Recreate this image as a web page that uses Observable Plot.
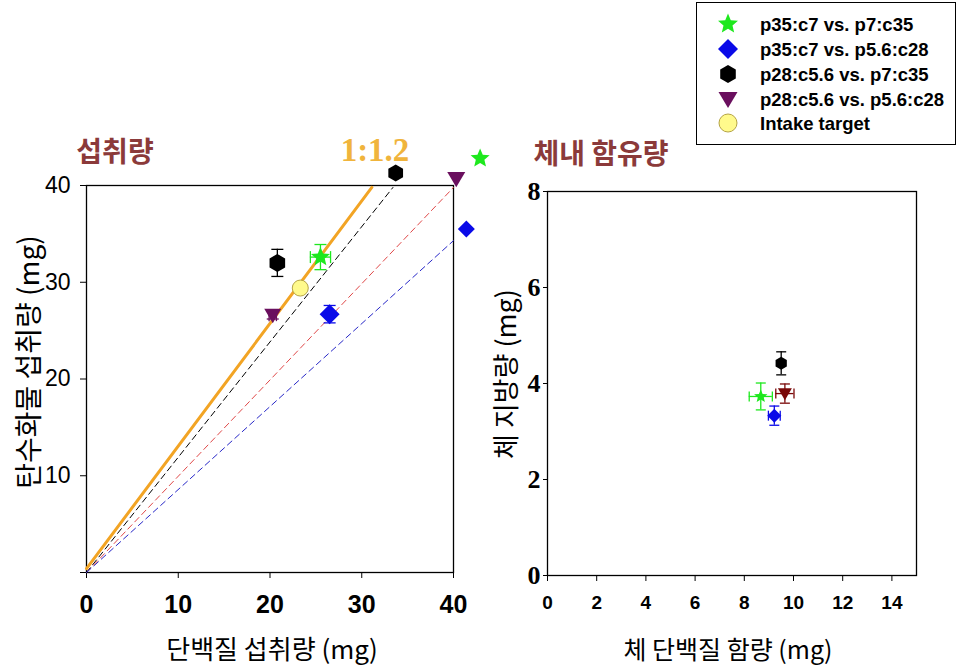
<!DOCTYPE html>
<html><head><meta charset="utf-8">
<script src="https://cdn.jsdelivr.net/npm/d3@7"></script>
<script src="https://cdn.jsdelivr.net/npm/@observablehq/plot@0.6"></script>
<style>
body{margin:0;background:#fff;}
#fig{position:relative;width:972px;height:666px;overflow:hidden;font-family:Arial,"Liberation Sans",sans-serif;background:#fff;}
.abs{position:absolute;white-space:nowrap;line-height:1;}
.kr{font-family:"Noto Sans CJK KR","Noto Sans",sans-serif;}
#left, #right{position:absolute;top:0;}
#left g[aria-label="x-axis tick label"]{font:bold 25px Arial,"Liberation Sans",sans-serif;}
#left g[aria-label="y-axis tick label"]{font:23px Arial,"Liberation Sans",sans-serif;}
#right g[aria-label="x-axis tick label"]{font:bold 19px Arial,"Liberation Sans",sans-serif;}
#right g[aria-label="y-axis tick label"]{font:bold 26px "Liberation Serif","DejaVu Serif",serif;}
</style></head><body><div id="fig"></div>
<script>
// ---------- data ----------
const series = ["p35:c7 vs. p7:c35", "p35:c7 vs. p5.6:c28", "p28:c5.6 vs. p7:c35", "p28:c5.6 vs. p5.6:c28"];
const targetLabel = "Intake target";
// intake (left panel)
const intakeProtein   = [25.5, 26.5, 20.8, 20.3];
const intakeCarb      = [32.6, 26.7, 32.0, 26.6];
const intakeProteinSE = [1.1, 0.0, 0.0, 0.4];
const intakeCarbSE    = [1.3, 0.9, 1.4, 0.4];
const targetProtein = [23.3];
const targetCarb    = [29.4];
// diet markers (outside frame)
const dietProtein = [42.9, 41.4, 33.7, 40.3];
const dietCarb    = [42.8, 35.5, 41.3, 40.7];
// nutritional rails (from origin)
const railProtein = [33.4, 40.0, 40.0];
const railCarb    = [39.8, 39.8, 34.3];
// 1:1.2 line
const ratioLabel = "1:1.2";
const ratioProtein = [0, 31.1];
const ratioCarb    = [0.4, 39.8];
// body composition (right panel)
const bodyProtein   = [8.67, 9.22, 9.50, 9.65];
const bodyFat       = [3.73, 3.33, 4.42, 3.79];
const bodyProteinSE = [0.47, 0.24, 0.0, 0.37];
const bodyFatSE     = [0.28, 0.20, 0.24, 0.20];
// ticks
const leftXTicks = [0, 10, 20, 30, 40];
const leftYTicks = [0, 10, 20, 30, 40];
const rightXTicks = [0, 2, 4, 6, 8, 10, 12, 14];
const rightYTicks = [0, 2, 4, 6, 8];
// texts
const leftTitle = "섭취량", rightTitle = "체내 함유량";
const leftXLabel = "단백질 섭취량 (mg)", leftYLabel = "탄수화물 섭취량 (mg)";
const rightXLabel = "체 단백질 함량 (mg)", rightYLabel = "체 지방량 (mg)";

// ---------- styles ----------
const colorsLeft  = ["#1ee81e", "#0a0ae8", "#000000", "#6a0f5e"];
const colorsRight = ["#1ee81e", "#0a0ae8", "#000000", "#7a0808"];
const railColors = ["#000000", "#e04848", "#2828c8"];

// ---------- symbols (size = PI r^2) ----------
const R = s => Math.sqrt(s / Math.PI);
const symHex = {draw(c, s){const r = R(s), a = r * Math.sqrt(3) / 2; c.moveTo(0,-r); c.lineTo(a,-r/2); c.lineTo(a,r/2); c.lineTo(0,r); c.lineTo(-a,r/2); c.lineTo(-a,-r/2); c.closePath();}};
const symDiamond = {draw(c, s){const r = R(s); c.moveTo(0,-r); c.lineTo(r,0); c.lineTo(0,r); c.lineTo(-r,0); c.closePath();}};
const symTriDown = {draw(c, s){const r = R(s); c.moveTo(-r,-r*0.75); c.lineTo(r,-r*0.75); c.lineTo(0,r*0.95); c.closePath();}};
const symStar = {draw(c, s){const r = R(s), ri = r * 0.45; for (let k = 0; k < 10; k++){const a = -Math.PI/2 + k*Math.PI/5, rr = k % 2 ? ri : r; const px = rr*Math.cos(a), py = rr*Math.sin(a); k ? c.lineTo(px, py) : c.moveTo(px, py);} c.closePath();}};
const symCapH = {draw(c, s){const r = R(s); c.moveTo(-r,0); c.lineTo(r,0);}};
const symCapV = {draw(c, s){const r = R(s); c.moveTo(0,-r); c.lineTo(0,r);}};
const symbols = [symStar, symDiamond, symHex, symTriDown];

const fig = document.getElementById("fig");

function errorMarks(rows, colors, cap, rPt) {
  const marks = [];
  const ry = rows.filter(d => d.ye > 0), rx = rows.filter(d => d.xe > 0);
  marks.push(Plot.ruleX(ry, {x: "x", y1: d => d.y - d.ye, y2: d => d.y + d.ye, stroke: d => colors[d.i], strokeWidth: 1.3}));
  marks.push(Plot.ruleY(rx, {y: "y", x1: d => d.x - d.xe, x2: d => d.x + d.xe, stroke: d => colors[d.i], strokeWidth: 1.3}));
  marks.push(Plot.dot(ry, {x: "x", y: d => d.y - d.ye, symbol: symCapH, r: cap, fill: "none", stroke: d => colors[d.i], strokeWidth: 1.3}));
  marks.push(Plot.dot(ry, {x: "x", y: d => d.y + d.ye, symbol: symCapH, r: cap, fill: "none", stroke: d => colors[d.i], strokeWidth: 1.3}));
  marks.push(Plot.dot(rx, {x: d => d.x - d.xe, y: "y", symbol: symCapV, r: cap, fill: "none", stroke: d => colors[d.i], strokeWidth: 1.3}));
  marks.push(Plot.dot(rx, {x: d => d.x + d.xe, y: "y", symbol: symCapV, r: cap, fill: "none", stroke: d => colors[d.i], strokeWidth: 1.3}));
  rows.forEach(d => marks.push(Plot.dot([d], {x: "x", y: "y", symbol: symbols[d.i], r: rPt[d.i], fill: colors[d.i], stroke: "none"})));
  return marks;
}

// ---------- left panel ----------
const intakeRows = series.map((s, i) => ({i, s, x: intakeProtein[i], y: intakeCarb[i], xe: intakeProteinSE[i], ye: intakeCarbSE[i]}));
const dietRows = series.map((s, i) => ({i, s, x: dietProtein[i], y: dietCarb[i]}));
const targetRows = targetProtein.map((x, k) => ({x, y: targetCarb[k]}));
const ratioRows = ratioProtein.map((x, k) => ({x, y: ratioCarb[k]}));
const railMarks = railProtein.map((x, k) => Plot.line([{x: 0, y: 0}, {x, y: railCarb[k]}], {x: "x", y: "y", stroke: railColors[k], strokeWidth: 1, strokeDasharray: "6,4"}));

const left = Plot.plot({
  width: 500, height: 666,
  marginLeft: 86, marginRight: 47, marginTop: 185, marginBottom: 94,
  x: {domain: [0, 40]}, y: {domain: [0, 40]},
  color: {type: "identity"},
  style: {background: "transparent", overflow: "visible", color: "black"},
  marks: [
    Plot.axisX({ticks: leftXTicks, tickSize: 6, tickPadding: 17, label: null, fontSize: 25, fontWeight: "bold"}),
    Plot.axisY({ticks: leftYTicks, tickSize: 6, tickPadding: 10, label: null, fontSize: 23, tickFormat: d => d === 0 ? "" : String(d)}),
    Plot.frame({stroke: "black", strokeWidth: 1.3}),
    ...railMarks,
    Plot.line(ratioRows, {x: "x", y: "y", stroke: "#f2a424", strokeWidth: 3}),
    ...errorMarks(intakeRows, colorsLeft, 6, [10, 10, 9, 8.5]),
    ...dietRows.map(d => Plot.dot([d], {x: "x", y: "y", symbol: symbols[d.i], r: [10, 8.5, 8.5, 9][d.i], fill: colorsLeft[d.i], stroke: "none"})),
    Plot.dot(targetRows, {x: "x", y: "y", r: 8, fill: "#fffa8c", stroke: "#b5a445", strokeWidth: 1})
  ]
});
left.id = "left"; left.style.left = "0px";
fig.appendChild(left);

// ---------- right panel ----------
const bodyRows = series.map((s, i) => ({i, s, x: bodyProtein[i], y: bodyFat[i], xe: bodyProteinSE[i], ye: bodyFatSE[i]}));
const right = Plot.plot({
  width: 472, height: 666,
  marginLeft: 47, marginRight: 56, marginTop: 191, marginBottom: 91,
  x: {domain: [0, 15]}, y: {domain: [0, 8]},
  color: {type: "identity"},
  style: {background: "transparent", overflow: "visible", color: "black"},
  marks: [
    Plot.axisX({ticks: rightXTicks, tickSize: 6, tickPadding: 14, label: null, fontSize: 19, fontWeight: "bold"}),
    Plot.axisY({ticks: rightYTicks, tickSize: 4, tickPadding: 3, label: null, fontSize: 26, fontWeight: "bold"}),
    Plot.frame({stroke: "black", strokeWidth: 1.3}),
    ...errorMarks(bodyRows, colorsRight, 5, [7, 7, 6.5, 7])
  ]
});
right.id = "right"; right.style.left = "500px";
fig.appendChild(right);

// ---------- texts ----------
function addText(txt, cx, cy, css, cls, rot, anchorLeft) {
  const d = document.createElement("div");
  d.className = "abs " + (cls || "");
  d.textContent = txt;
  d.style.cssText += css;
  d.style.left = cx + "px"; d.style.top = cy + "px";
  d.style.transform = (anchorLeft ? "translate(0,-50%)" : "translate(-50%,-50%)") + (rot ? " rotate(" + rot + "deg)" : "");
  fig.appendChild(d);
}
addText(leftTitle, 115, 150, "font-size:28px;font-weight:bold;color:#8b3a3a;", "kr");
addText(ratioLabel, 375, 150, "font-size:33px;font-weight:bold;color:#f0b43c;font-family:'Liberation Serif','DejaVu Serif',serif;");
addText(rightTitle, 601, 152, "font-size:28px;font-weight:bold;color:#8b3a3a;", "kr");
addText(leftXLabel, 272, 648, "font-size:26px;color:#000;", "kr");
addText(leftYLabel, 27, 362, "font-size:28px;color:#000;", "kr", -90);
addText(rightXLabel, 728, 648, "font-size:25px;color:#000;", "kr");
addText(rightYLabel, 504, 374, "font-size:27px;color:#000;", "kr", -90);

// ---------- legend ----------
const leg = document.createElement("div");
leg.className = "abs";
leg.style.cssText += "left:696px;top:2px;width:258px;height:141px;border:1.5px solid #000;background:#fff;";
fig.appendChild(leg);
const legRows = [24, 49, 74, 99, 123];
const legSvg = d3.create("svg").attr("width", 60).attr("height", 145).style("position", "absolute").style("left", "698px").style("top", "0px");
const legR = [10.5, 10, 9, 9.5];
series.forEach((s, i) => {
  const p = d3.path(); symbols[i].draw(p, Math.PI * legR[i] * legR[i]);
  legSvg.append("path").attr("d", p.toString()).attr("transform", `translate(30,${legRows[i]})`).attr("fill", colorsLeft[i]);
  addText(s, 760, legRows[i] + 1, "font-size:18.5px;font-weight:bold;", "", 0, true);
});
legSvg.append("circle").attr("cx", 30).attr("cy", legRows[4]).attr("r", 9).attr("fill", "#fffa8c").attr("stroke", "#b5a445");
addText(targetLabel, 760, legRows[4] + 1, "font-size:18.5px;font-weight:bold;", "", 0, true);
fig.appendChild(legSvg.node());
</script>
</body></html>
